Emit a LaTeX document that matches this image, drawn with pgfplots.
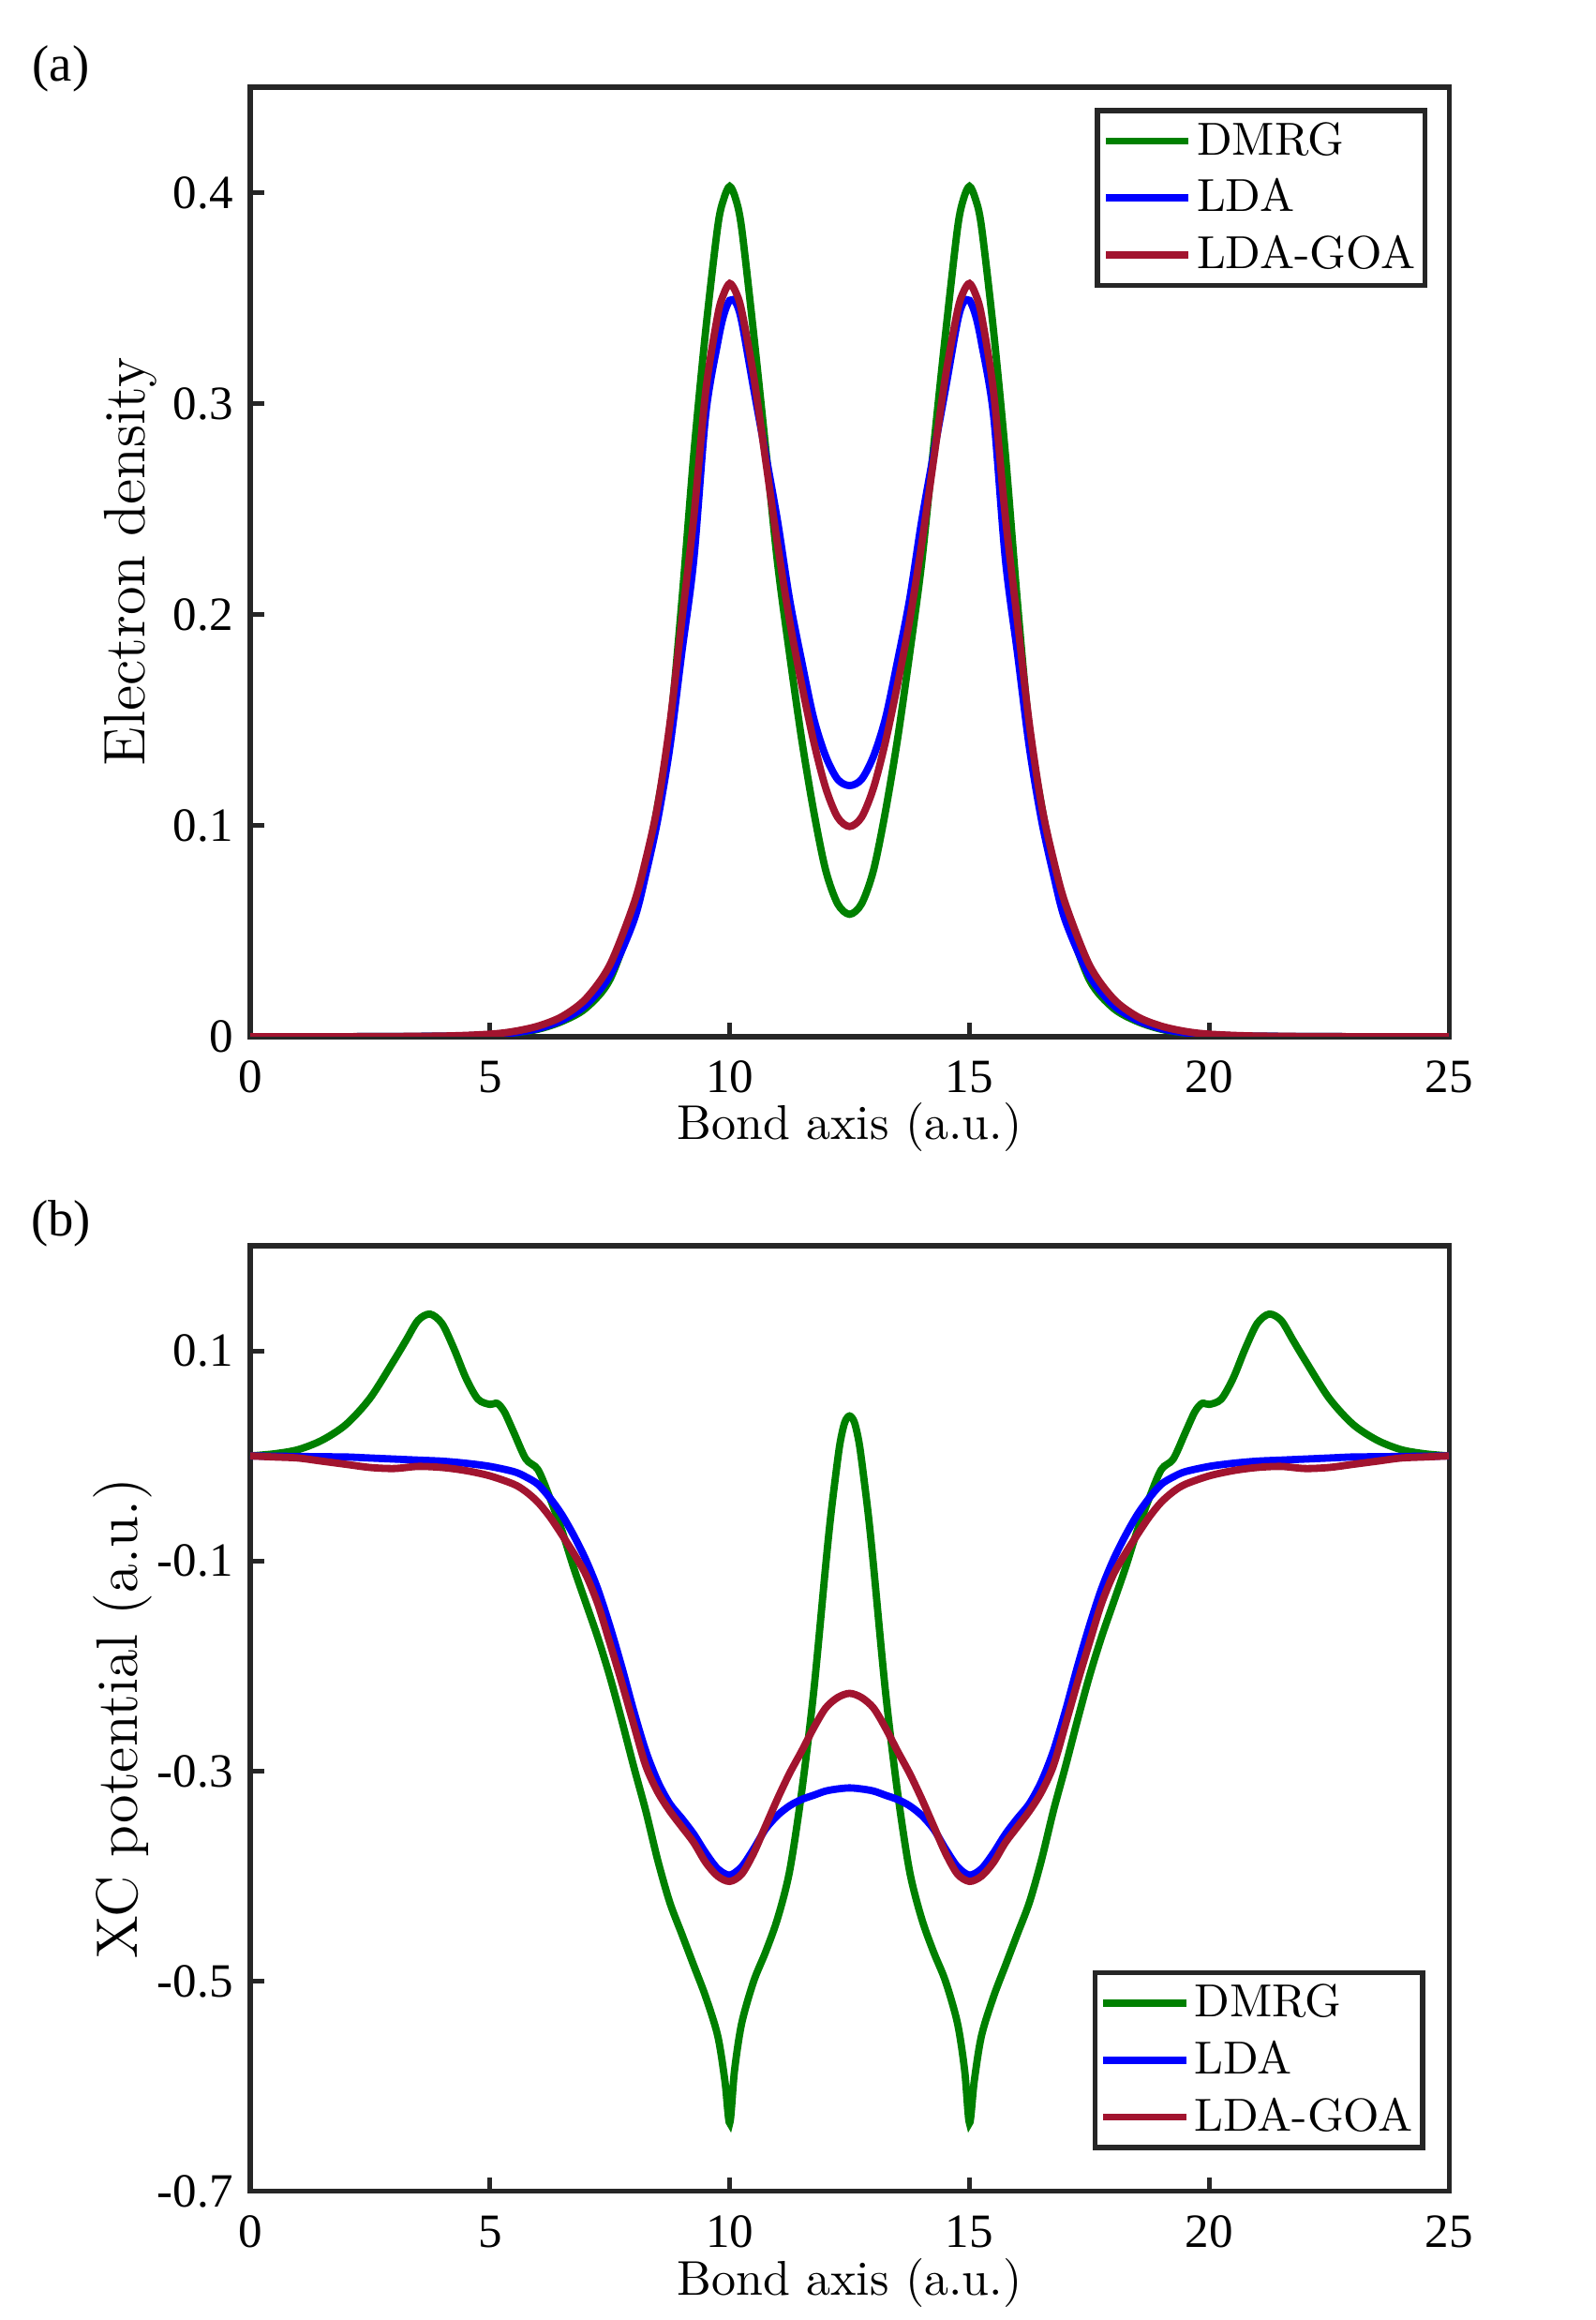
\documentclass[border=0pt]{standalone}
\usepackage{fontspec}
\usepackage{pgfplots}
\usepackage{pgfplotstable}
\pgfplotsset{compat=1.18}
\newfontfamily\timesfont{Liberation Serif}
\definecolor{cdmrg}{rgb}{0,0.5,0}
\definecolor{clda}{rgb}{0,0,1}
\definecolor{cgoa}{rgb}{0.635,0.078,0.184}
\definecolor{axgray}{rgb}{0.15,0.15,0.15}

\pgfplotstableread{
x d l g
0 0 0 0
2 0 0 0
4 0.0002 0.0002 0.0003
5 0.0008 0.0008 0.0012
5.5 0.0017 0.0018 0.0025
6 0.0035 0.0038 0.005
6.5 0.0072 0.0078 0.0095
7 0.0135 0.015 0.018
7.5 0.027 0.029 0.034
8 0.058 0.055 0.063
8.25 0.080 0.077 0.084
8.5 0.110 0.103 0.110
8.75 0.145 0.137 0.148
9 0.206 0.182 0.197
9.25 0.276 0.226 0.246
9.5 0.335 0.295 0.306
9.75 0.384 0.329 0.342
9.875 0.397 0.342 0.352
10 0.403 0.349 0.357
10.125 0.397 0.348 0.353
10.25 0.383 0.339 0.344
10.5 0.333 0.307 0.313
10.75 0.279 0.276 0.273
11 0.224 0.244 0.233
11.25 0.181 0.207 0.197
11.5 0.141 0.178 0.167
11.75 0.107 0.151 0.140
12 0.079 0.133 0.118
12.25 0.063 0.122 0.104
12.5 0.058 0.119 0.0996
12.75 0.063 0.122 0.104
13 0.079 0.133 0.118
13.25 0.107 0.151 0.140
13.5 0.141 0.178 0.167
13.75 0.181 0.207 0.197
14 0.224 0.244 0.233
14.25 0.279 0.276 0.273
14.5 0.333 0.307 0.313
14.75 0.383 0.339 0.344
14.875 0.397 0.348 0.353
15 0.403 0.349 0.357
15.125 0.397 0.342 0.352
15.25 0.384 0.329 0.342
15.5 0.335 0.295 0.306
15.75 0.276 0.226 0.246
16 0.206 0.182 0.197
16.25 0.145 0.137 0.148
16.5 0.110 0.103 0.110
16.75 0.080 0.077 0.084
17 0.058 0.055 0.063
17.5 0.027 0.029 0.034
18 0.0135 0.015 0.018
18.5 0.0072 0.0078 0.0095
19 0.0035 0.0038 0.005
19.5 0.0017 0.0018 0.0025
20 0.0008 0.0008 0.0012
21 0.0002 0.0002 0.0003
23 0 0 0
25 0 0 0
}\dens

\pgfplotstableread{
x y
0 0
0.5 0.002
1 0.006
1.5 0.015
2 0.030
2.5 0.055
3 0.091
3.25 0.110
3.5 0.129
3.75 0.135
4 0.126
4.25 0.102
4.5 0.074
4.75 0.054
5 0.049
5.15 0.050
5.3 0.042
5.5 0.022
5.75 -0.003
6 -0.013
6.25 -0.040
6.5 -0.071
6.75 -0.107
7 -0.140
7.25 -0.173
7.5 -0.210
7.75 -0.252
8 -0.296
8.25 -0.338
8.5 -0.385
8.75 -0.425
9 -0.455
9.25 -0.485
9.5 -0.515
9.75 -0.552
9.9 -0.595
10 -0.635
10.1 -0.585
10.25 -0.540
10.5 -0.500
10.75 -0.472
11 -0.440
11.25 -0.395
11.5 -0.320
11.75 -0.225
12 -0.105
12.1 -0.060
12.2 -0.022
12.3 0.012
12.4 0.032
12.5 0.038
12.6 0.032
12.7 0.012
12.8 -0.022
12.9 -0.060
13 -0.105
13.25 -0.225
13.5 -0.320
13.75 -0.395
14 -0.440
14.25 -0.472
14.5 -0.500
14.75 -0.540
14.9 -0.585
15 -0.635
15.1 -0.595
15.25 -0.552
15.5 -0.515
15.75 -0.485
16 -0.455
16.25 -0.425
16.5 -0.385
16.75 -0.338
17 -0.296
17.25 -0.252
17.5 -0.210
17.75 -0.173
18 -0.140
18.25 -0.107
18.5 -0.071
18.75 -0.040
19 -0.013
19.25 -0.003
19.5 0.022
19.7 0.042
19.85 0.050
20 0.049
20.25 0.054
20.5 0.074
20.75 0.102
21 0.126
21.25 0.135
21.5 0.129
21.75 0.110
22 0.091
22.5 0.055
23 0.030
23.5 0.015
24 0.006
24.5 0.002
25 0
}\potd

\pgfplotstableread{
x l g
0 0 0
0.5 -0.0003 -0.001
1 -0.0005 -0.002
1.5 -0.0008 -0.005
2 -0.001 -0.008
2.5 -0.002 -0.011
3 -0.003 -0.012
3.5 -0.004 -0.010
4 -0.005 -0.011
4.5 -0.007 -0.014
5 -0.010 -0.019
5.5 -0.015 -0.027
5.75 -0.020 -0.034
6 -0.027 -0.044
6.25 -0.040 -0.058
6.5 -0.056 -0.075
6.75 -0.076 -0.093
7 -0.099 -0.113
7.25 -0.127 -0.141
7.5 -0.162 -0.178
7.75 -0.201 -0.216
8 -0.243 -0.256
8.25 -0.281 -0.295
8.5 -0.310 -0.320
8.75 -0.331 -0.338
9 -0.345 -0.353
9.25 -0.360 -0.368
9.5 -0.378 -0.387
9.75 -0.393 -0.400
10 -0.399 -0.405
10.25 -0.391 -0.398
10.5 -0.374 -0.378
10.75 -0.355 -0.352
11 -0.342 -0.326
11.25 -0.333 -0.302
11.5 -0.327 -0.281
11.75 -0.323 -0.259
12 -0.319 -0.240
12.25 -0.317 -0.230
12.5 -0.316 -0.226
12.75 -0.317 -0.230
13 -0.319 -0.240
13.25 -0.323 -0.259
13.5 -0.327 -0.281
13.75 -0.333 -0.302
14 -0.342 -0.326
14.25 -0.355 -0.352
14.5 -0.374 -0.378
14.75 -0.391 -0.398
15 -0.399 -0.405
15.25 -0.393 -0.400
15.5 -0.378 -0.387
15.75 -0.360 -0.368
16 -0.345 -0.353
16.25 -0.331 -0.338
16.5 -0.310 -0.320
16.75 -0.281 -0.295
17 -0.243 -0.256
17.25 -0.201 -0.216
17.5 -0.162 -0.178
17.75 -0.127 -0.141
18 -0.099 -0.113
18.25 -0.076 -0.093
18.5 -0.056 -0.075
18.75 -0.040 -0.058
19 -0.027 -0.044
19.25 -0.020 -0.034
19.5 -0.015 -0.027
20 -0.010 -0.019
20.5 -0.007 -0.014
21 -0.005 -0.011
21.5 -0.004 -0.010
22 -0.003 -0.012
22.5 -0.002 -0.011
23 -0.001 -0.008
23.5 -0.0008 -0.005
24 -0.0005 -0.002
24.5 -0.0003 -0.001
25 0 0
}\potl

\pgfplotsset{
  myax/.style={
    scale only axis, width=246pt,
    xmin=0, xmax=25,
    xtick={0,5,10,15,20,25}, xticklabels={0,5,10,15,20,25},
    axis line style={axgray, line width=1pt},
    every tick/.style={axgray, line width=1pt},
    major tick length=2.8pt,
    tick align=inside, xtick pos=bottom, ytick pos=left,
    ticklabel style={font=\timesfont\fontsize{9.8}{11}\selectfont, text=black},
    xticklabel style={yshift=-1.5pt},
    xlabel style={font=\fontsize{10}{12}\selectfont, anchor=center},
    ylabel style={font=\fontsize{12}{14}\selectfont, anchor=center},
    legend style={anchor=north east, draw=axgray, line width=1pt, fill=white,
      inner xsep=1pt, inner ysep=0.4pt,
      font=\fontsize{9.5}{11}\selectfont,
      nodes={inner xsep=0.9pt, inner ysep=1.85pt, text height=6.8pt, text depth=1.2pt},
      cells={anchor=west}},
    legend image code/.code={\draw[#1] (0pt,0pt) -- (17pt,0pt);},
  },
  every axis plot/.append style={line width=1.5pt, smooth, tension=0.5},
}

\begin{document}
\begin{tikzpicture}
\useasboundingbox (0,0) rectangle (327.5pt,476pt);
\node[font=\timesfont\fontsize{10.5}{12}\selectfont] at (12.5pt,461.8pt) {(a)};
\node[font=\timesfont\fontsize{10.5}{12}\selectfont] at (12.5pt,225pt) {(b)};

\begin{axis}[myax, at={(51.35pt,263.3pt)}, anchor=south west, height=194.8pt,
  ymin=0, ymax=0.45, ytick={0,0.1,0.2,0.3,0.4}, yticklabels={0,0.1,0.2,0.3,0.4},
  xlabel={Bond axis (a.u.)}, ylabel={Electron density},
  xlabel style={at={(axis description cs:0.5,-0.095)}},
  ylabel style={at={(axis description cs:-0.0996,0.5)}},
  legend style={at={(rel axis cs:0.982,0.978)}}]
\addplot[cdmrg] table[x=x,y=d] {\dens};
\addlegendentry{DMRG}
\addplot[clda] table[x=x,y=l] {\dens};
\addlegendentry{LDA}
\addplot[cgoa] table[x=x,y=g] {\dens};
\addlegendentry{LDA-GOA}
\end{axis}

\begin{axis}[myax, at={(51.35pt,26.4pt)}, anchor=south west, height=194pt,
  ymin=-0.7, ymax=0.2, ytick={-0.7,-0.5,-0.3,-0.1,0.1}, yticklabels={-0.7,-0.5,-0.3,-0.1,0.1},
  xlabel={Bond axis (a.u.)}, ylabel={XC potential (a.u.)},
  xlabel style={at={(axis description cs:0.5,-0.097)}},
  ylabel style={at={(axis description cs:-0.106,0.5)}},
  legend style={at={(rel axis cs:0.980,0.234)}}]
\addplot[cdmrg] table[x=x,y=y] {\potd};
\addlegendentry{DMRG}
\addplot[clda] table[x=x,y=l] {\potl};
\addlegendentry{LDA}
\addplot[cgoa] table[x=x,y=g] {\potl};
\addlegendentry{LDA-GOA}
\end{axis}
\end{tikzpicture}
\end{document}
